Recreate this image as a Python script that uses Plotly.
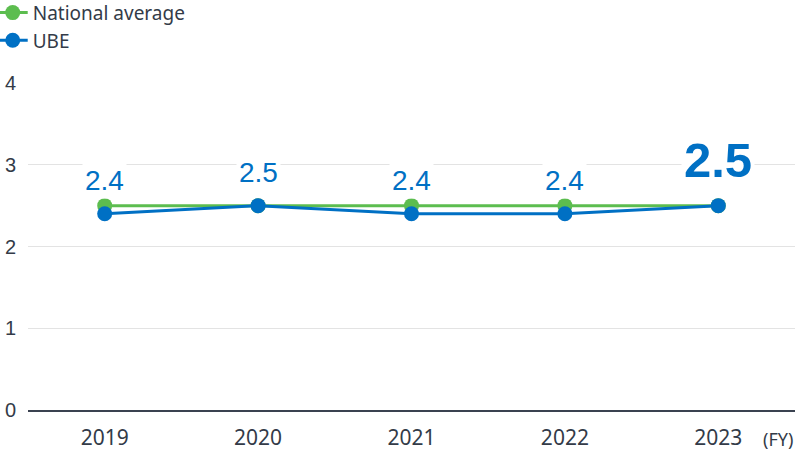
import plotly.graph_objects as go

years = ["2019", "2020", "2021", "2022", "2023"]
national = [2.5, 2.5, 2.5, 2.5, 2.5]
ube = [2.4, 2.5, 2.4, 2.4, 2.5]
ube_labels = ["2.4", "2.5", "2.4", "2.4", "2.5"]
y_ticks = [0, 1, 2, 3, 4]

GREEN = "#5cbd4f"
BLUE = "#0070c4"
TEXT = "#333b48"

fig = go.Figure()
fig.add_trace(go.Scatter(x=years, y=national, mode="lines+markers", name="National average",
                         line=dict(color=GREEN, width=3), marker=dict(color=GREEN, size=15)))
fig.add_trace(go.Scatter(x=years, y=ube, mode="lines+markers", name="UBE",
                         line=dict(color=BLUE, width=3), marker=dict(color=BLUE, size=15)))

for i, (v, lab) in enumerate(zip(ube, ube_labels)):
    last = i == len(years) - 1
    fig.add_annotation(x=i, y=v, text=lab, showarrow=False, xref="x", yref="y",
                       yshift=46 if last else 33,
                       bgcolor="white", borderpad=2,
                       font=dict(family="Liberation Sans, Arial", size=49 if last else 28,
                                 color=BLUE, weight=700 if last else 400))

fig.add_annotation(text="(FY)", x=1.0, xref="paper", y=-0.045, yref="paper", xanchor="right",
                   yanchor="top", showarrow=False,
                   font=dict(family="Noto Sans", size=18, color=TEXT))

fig.update_layout(
    width=800, height=450,
    margin=dict(l=28, r=5, t=83, b=40, autoexpand=False),
    plot_bgcolor="white", paper_bgcolor="white",
    showlegend=True,
    legend=dict(x=-0.046, y=1.273, xanchor="left", yanchor="top", bgcolor="rgba(0,0,0,0)",
                font=dict(family="Noto Sans", size=19, color=TEXT), itemwidth=30,
                tracegroupgap=0),
    xaxis=dict(type="category", range=[-0.5, 4.5], showgrid=False, showline=True,
               linecolor="#3a4250", linewidth=2, ticks="",
               tickfont=dict(family="Noto Sans", size=21, color=TEXT), ticklabelstandoff=8),
    yaxis=dict(range=[0, 4], tickvals=y_ticks, showgrid=True, gridcolor="#e3e3e3",
               gridwidth=1, zeroline=False, showline=False, ticks="",
               tickfont=dict(family="Liberation Sans, Arial", size=20, color=TEXT),
               ticklabelstandoff=11),
)

fig.write_html("out.html", config={"displayModeBar": False},
               post_script="document.body.style.margin='0';")
